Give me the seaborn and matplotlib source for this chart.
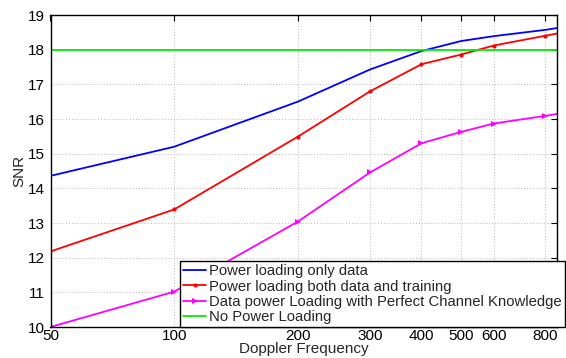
import matplotlib
matplotlib.use('Agg')
import matplotlib.pyplot as plt
import seaborn as sns
import numpy as np

# doppler frequencies (last point sits just outside the visible axis)
doppler = [50, 100, 200, 300, 400, 500, 600, 800, 1000]

snr_data_only = [14.36, 15.20, 16.50, 17.43, 17.96, 18.25, 18.39, 18.57, 18.75]
snr_data_training = [12.18, 13.39, 15.49, 16.80, 17.58, 17.86, 18.12, 18.40, 18.62]
snr_perfect_csi = [10.00, 11.02, 13.04, 14.46, 15.30, 15.63, 15.87, 16.09, 16.28]
snr_no_loading = [18.0] * len(doppler)

labels = ['Power loading only data',
          'Power loading both data and training',
          'Data power Loading with Perfect Channel Knowledge',
          'No Power Loading']
xticks = [50, 100, 200, 300, 400, 500, 600, 800]
yticks = list(range(10, 20))

sns.set_style('white')
plt.rcParams['font.family'] = ['Liberation Sans', 'DejaVu Sans']

fig = plt.figure(figsize=(5.66, 3.58), dpi=100)
ax = fig.add_axes([50.5 / 566, 1 - 327 / 358, (557 - 50.5) / 566, (327 - 15) / 358])

sns.lineplot(x=doppler, y=snr_data_only, ax=ax, color='#0000ff', lw=1.3,
             label=labels[0])
sns.lineplot(x=doppler, y=snr_data_training, ax=ax, color='#ff0000', lw=1.3,
             marker='.', markersize=6, markeredgewidth=0, label=labels[1])
sns.lineplot(x=doppler, y=snr_perfect_csi, ax=ax, color='#ff00ff', lw=1.3,
             marker='>', markersize=5, markeredgewidth=0, label=labels[2])
sns.lineplot(x=doppler, y=snr_no_loading, ax=ax, color='#00ee00', lw=1.3,
             label=labels[3])

ax.set_xscale('log')
ax.set_xlim(50, 855)
ax.set_ylim(10, 19)
ax.set_xticks(xticks)
ax.set_xticklabels([str(t) for t in xticks])
ax.minorticks_off()
ax.set_yticks(yticks)
ax.tick_params(direction='in', top=True, right=True, length=4, width=0.8,
               labelsize=11, colors='black')
ax.tick_params(axis='x', pad=1.5)
ax.tick_params(axis='y', pad=4)
ax.grid(True, linestyle=(0, (1, 2)), color='#b8b8b8', linewidth=0.7)
for s in ax.spines.values():
    s.set_color('black')
    s.set_linewidth(1.0)

ax.set_xlabel('Doppler Frequency', fontsize=11, labelpad=-1)
ax.set_ylabel('SNR', fontsize=11, labelpad=1)

leg = ax.legend(loc='lower right', bbox_to_anchor=(565 / 566, 1 - 327 / 358),
                bbox_transform=fig.transFigure, fontsize=10.7, frameon=True,
                fancybox=False, edgecolor='black', framealpha=1,
                handlelength=1.6, handletextpad=0.2, borderpad=0.2,
                labelspacing=0.08, borderaxespad=0)
leg.get_frame().set_linewidth(1.0)

fig.savefig('out.png', dpi=100)
